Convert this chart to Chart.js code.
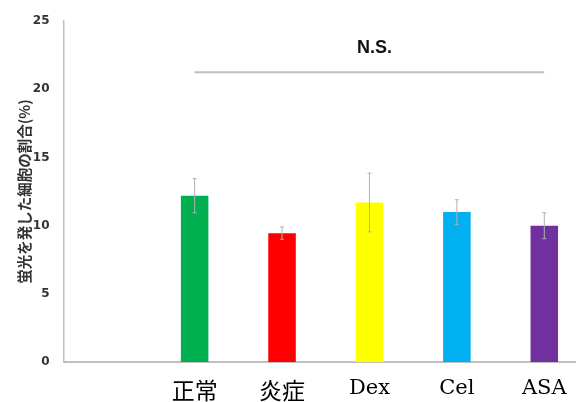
<!DOCTYPE html>
<html>
<head>
<meta charset="utf-8">
<script src="https://cdn.jsdelivr.net/npm/chart.js@4/dist/chart.umd.min.js"></script>
<style>
  html, body { margin: 0; padding: 0; background: #fff; }
  #wrap { width: 576px; height: 402px; overflow: hidden; position: relative; }
  canvas { display: block; }
</style>
</head>
<body>
<div id="wrap"><canvas id="c" width="588" height="402"></canvas></div>
<script>
// Groups (first slot is intentionally empty)
const categories = ['', '正常', '炎症', 'Dex', 'Cel', 'ASA'];
// Mean percentage of fluorescent cells
const means = [null, 12.2, 9.45, 11.7, 11.0, 10.0];
// Error bar half-lengths
const errors = [null, 1.25, 0.45, 2.15, 0.9, 0.95];
const barColors = ['#ffffff', '#00B050', '#FF0000', '#FFFF00', '#00B0F0', '#7030A0'];
const yTicks = [0, 5, 10, 15, 20, 25];
const sigLabel = 'N.S.';
const sigLevel = 21.25;   // bracket line height (data units)
const sigTextLevel = 23;  // text centre (data units)

const errorBars = {
  id: 'errorBars',
  afterDatasetsDraw(chart) {
    const ctx = chart.ctx;
    const x = chart.scales.x, y = chart.scales.y;
    ctx.save();
    ctx.strokeStyle = '#b0b0b0';
    ctx.lineWidth = 1;
    means.forEach((m, i) => {
      if (m === null) return;
      const cx = x.getPixelForValue(i);
      const top = y.getPixelForValue(m + errors[i]);
      const bot = y.getPixelForValue(m - errors[i]);
      ctx.beginPath();
      ctx.moveTo(cx, top); ctx.lineTo(cx, bot);
      ctx.moveTo(cx - 2, top); ctx.lineTo(cx + 2, top);
      ctx.moveTo(cx - 2, bot); ctx.lineTo(cx + 2, bot);
      ctx.stroke();
    });
    // significance bracket across the treated groups
    const x1 = x.getPixelForValue(1), x2 = x.getPixelForValue(5);
    const ly = y.getPixelForValue(sigLevel);
    ctx.strokeStyle = '#bfbfbf';
    ctx.lineWidth = 2;
    ctx.beginPath();
    ctx.moveTo(x1, ly); ctx.lineTo(x2, ly);
    ctx.stroke();
    ctx.fillStyle = '#111';
    ctx.font = 'bold 18px "Liberation Sans", Arial, sans-serif';
    ctx.textAlign = 'center';
    ctx.textBaseline = 'middle';
    ctx.fillText(sigLabel, (x1 + x2) / 2 + 5, y.getPixelForValue(sigTextLevel));
    ctx.restore();
  }
};

new Chart(document.getElementById('c'), {
  type: 'bar',
  data: {
    labels: categories,
    datasets: [{
      data: means,
      backgroundColor: barColors,
      borderWidth: 0,
      categoryPercentage: 1,
      barPercentage: 0.315
    }]
  },
  options: {
    responsive: false,
    animation: false,
    devicePixelRatio: 1,
    layout: { padding: { top: 20, right: 0, left: 0, bottom: 0 } },
    plugins: { legend: { display: false }, tooltip: { enabled: false } },
    scales: {
      x: {
        offset: true,
        grid: { display: false, drawTicks: false },
        border: { color: '#bfbfbf', width: 2 },
        ticks: {
          color: '#000',
          padding: 14,
          font: (c) => (c.index === 1 || c.index === 2)
            ? { family: '"Noto Sans CJK JP", sans-serif', size: 23 }
            : { family: '"DejaVu Serif", serif', size: 21 }
        },
        afterFit(scale) { scale.height = 40; }
      },
      y: {
        min: 0, max: 25,
        afterBuildTicks(scale) { scale.ticks = yTicks.map(v => ({ value: v })); },
        grid: { display: false, drawTicks: false },
        border: { color: '#bfbfbf', width: 1.5 },
        ticks: {
          color: '#333',
          padding: 14,
          font: { family: '"DejaVu Sans", sans-serif', size: 12, weight: 'bold' }
        },
        title: {
          display: true,
          text: '蛍光を発した細胞の割合(%)',
          color: '#333',
          padding: { top: 16, bottom: 0 },
          font: { family: '"Noto Sans CJK JP", sans-serif', size: 14.5, weight: 'bold' }
        },
        afterFit(scale) { scale.width = 63.5; }
      }
    }
  },
  plugins: [errorBars]
});
</script>
</body>
</html>
